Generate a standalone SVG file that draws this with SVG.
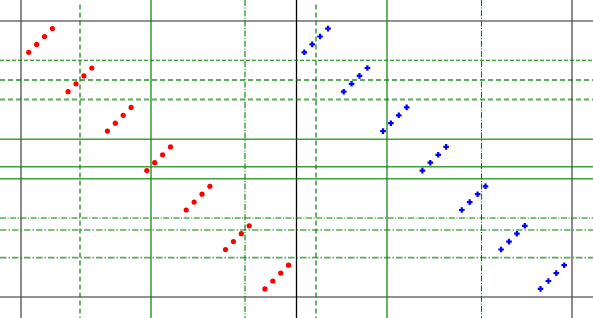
<svg xmlns="http://www.w3.org/2000/svg" xmlns:xlink="http://www.w3.org/1999/xlink" width="593" height="318" viewBox="0 0 593 318">
<style>
.gray{stroke:#555;stroke-opacity:0.85;stroke-width:1.6;fill:none}
.blk{stroke:#000;stroke-width:1.3;fill:none}
.gs{stroke:#008000;stroke-opacity:0.75;stroke-width:1.6;fill:none}
.gdd{stroke:#008000;stroke-width:1.1;stroke-dasharray:4 2;fill:none}
.gdl{stroke:#008000;stroke-opacity:0.65;stroke-width:1.8;stroke-dasharray:5 3;fill:none}
.gcd{stroke:#008000;stroke-width:1.1;stroke-dasharray:6 1.6 1 1.6;fill:none}
.gcl{stroke:#008000;stroke-opacity:0.65;stroke-width:1.7;stroke-dasharray:6.5 2 1.5 2;fill:none}
</style>
<defs>
<circle id="r" r="2.6" fill="#ff0000"/>
<path id="b" d="M-1.1,-2.8h2.2v1.7h1.7v2.2h-1.7v1.7h-2.2v-1.7h-1.7v-2.2h1.7z" fill="#0000ff"/>
</defs>
<rect width="593" height="318" fill="#fff"/>
<g id="grid">
<line class="gray" x1="0" y1="21" x2="593" y2="21"/>
<line class="gray" x1="0" y1="297" x2="593" y2="297"/>
<line class="gray" x1="21" y1="0" x2="21" y2="318"/>
<line class="gray" x1="572" y1="0" x2="572" y2="318"/>
<line class="blk" x1="296.5" y1="0" x2="296.5" y2="318"/>
<line class="gs" x1="151" y1="0" x2="151" y2="318"/>
<line class="gs" x1="387" y1="0" x2="387" y2="318"/>
<line class="gdl" x1="80" y1="4.5" x2="80" y2="318"/>
<line class="gdl" x1="316" y1="4.5" x2="316" y2="318"/>
<line class="gcd" x1="245" y1="0" x2="245" y2="318"/>
<line class="gcd" x1="481.5" y1="0" x2="481.5" y2="318"/>
<line class="gdd" x1="0" y1="60.3" x2="593" y2="60.3"/>
<line class="gdl" x1="0" y1="80" x2="593" y2="80"/>
<line class="gdl" x1="0" y1="99.5" x2="593" y2="99.5"/>
<line class="gs" x1="0" y1="139.3" x2="593" y2="139.3"/>
<line class="gs" x1="0" y1="166.7" x2="593" y2="166.7"/>
<line class="gs" x1="0" y1="178.7" x2="593" y2="178.7"/>
<line class="gcd" x1="0" y1="218" x2="593" y2="218"/>
<line class="gcl" x1="0" y1="230" x2="593" y2="230"/>
<line class="gcl" x1="0" y1="257.7" x2="593" y2="257.7"/>
</g>
<g id="red">
<use href="#r" x="28.7" y="52.3"/><use href="#r" x="36.6" y="44.4"/><use href="#r" x="44.5" y="36.5"/><use href="#r" x="52.4" y="28.6"/>
<use href="#r" x="68.1" y="91.7"/><use href="#r" x="76" y="83.8"/><use href="#r" x="83.9" y="75.9"/><use href="#r" x="91.8" y="68"/>
<use href="#r" x="107.4" y="131.1"/><use href="#r" x="115.3" y="123.2"/><use href="#r" x="123.2" y="115.3"/><use href="#r" x="131.1" y="107.4"/>
<use href="#r" x="146.8" y="170.6"/><use href="#r" x="154.7" y="162.7"/><use href="#r" x="162.6" y="154.8"/><use href="#r" x="170.5" y="146.9"/>
<use href="#r" x="186.2" y="210"/><use href="#r" x="194.1" y="202.1"/><use href="#r" x="202" y="194.2"/><use href="#r" x="209.9" y="186.3"/>
<use href="#r" x="225.5" y="249.5"/><use href="#r" x="233.4" y="241.6"/><use href="#r" x="241.3" y="233.7"/><use href="#r" x="249.2" y="225.8"/>
<use href="#r" x="264.9" y="288.9"/><use href="#r" x="272.8" y="281"/><use href="#r" x="280.7" y="273.1"/><use href="#r" x="288.6" y="265.2"/>
</g>
<g id="blue">
<use href="#b" x="304.3" y="52.3"/><use href="#b" x="312.2" y="44.4"/><use href="#b" x="320.1" y="36.5"/><use href="#b" x="328" y="28.6"/>
<use href="#b" x="343.7" y="91.7"/><use href="#b" x="351.6" y="83.8"/><use href="#b" x="359.5" y="75.9"/><use href="#b" x="367.4" y="68"/>
<use href="#b" x="383" y="131.1"/><use href="#b" x="390.9" y="123.2"/><use href="#b" x="398.8" y="115.3"/><use href="#b" x="406.7" y="107.4"/>
<use href="#b" x="422.4" y="170.6"/><use href="#b" x="430.3" y="162.7"/><use href="#b" x="438.2" y="154.8"/><use href="#b" x="446.1" y="146.9"/>
<use href="#b" x="461.8" y="210"/><use href="#b" x="469.7" y="202.1"/><use href="#b" x="477.6" y="194.2"/><use href="#b" x="485.5" y="186.3"/>
<use href="#b" x="501.1" y="249.5"/><use href="#b" x="509" y="241.6"/><use href="#b" x="516.9" y="233.7"/><use href="#b" x="524.8" y="225.8"/>
<use href="#b" x="540.5" y="288.9"/><use href="#b" x="548.4" y="281"/><use href="#b" x="556.3" y="273.1"/><use href="#b" x="564.2" y="265.2"/>
</g>
</svg>
